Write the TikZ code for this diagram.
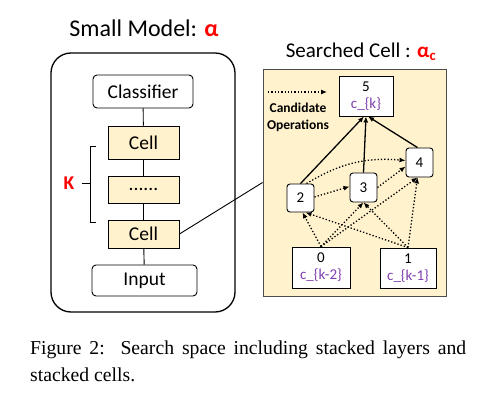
\documentclass[tikz,border=0pt]{standalone}
\usepackage{fontspec}
\setmainfont{Carlito}
\newfontfamily\capfont{Liberation Serif}
\usepackage{xcolor}
\definecolor{cellyellow}{RGB}{255,242,204}
\definecolor{opred}{RGB}{255,0,0}
\definecolor{oppurple}{RGB}{128,64,176}
\usetikzlibrary{arrows.meta,positioning}

\begin{document}
\begin{tikzpicture}[
  x=1pt,y=-1pt,
  modelbox/.style={draw,line width=0.9pt,rounded corners=4pt,fill=white,
    font=\fontsize{19.5}{21}\selectfont},
  cellbox/.style={draw,line width=0.9pt,fill=cellyellow,minimum width=71pt,
    font=\fontsize{19.5}{21}\selectfont},
  opnode/.style={draw,line width=0.9pt,rounded corners=3pt,fill=white,
    minimum width=27pt,minimum height=28pt,inner sep=0pt,
    font=\fontsize{15}{16}\selectfont},
  iobox/.style={draw,line width=0.9pt,fill=white,align=center,inner sep=0pt,
    font=\fontsize{15}{17}\selectfont},
  solidop/.style={line width=1.3pt,-{Latex[length=6pt,width=5pt]}},
  candop/.style={line width=1.3pt,dotted,-{Latex[length=6pt,width=5pt]}},
  link/.style={line width=0.9pt}
]
  \useasboundingbox (0,0) rectangle (490,401);
  % Small model header
  \node[font=\fontsize{24}{26}\selectfont] (titlemodel) at (144,28)
    {Small Model: \textcolor{opred}{\textbf{α}}};
  \node[draw,line width=1.3pt,rounded corners=20pt,minimum width=184pt,
    minimum height=259pt] (modelframe) at (143,182.5) {};
  \node[modelbox,minimum width=100pt,minimum height=33pt] (classifier) at (143,91.5) {Classifier};
  \node[cellbox,minimum height=33pt] (celltop) at (143.5,142.5) {Cell};
  \node[cellbox,minimum height=27pt] (celldots) at (143.5,189.5) {......};
  \node[cellbox,minimum height=28pt] (cellbot) at (143.5,234) {Cell};
  \node[modelbox,minimum width=105pt,minimum height=31pt] (input) at (144.5,280.5) {Input};
  \draw[link] (classifier) -- (celltop);
  \draw[link] (celltop) -- (celldots);
  \draw[link] (celldots) -- (cellbot);
  \draw[link] (cellbot) -- (input);
  % K bracket
  \coordinate (bracetop) at (96,146);
  \coordinate (bracebot) at (96,222);
  \coordinate (bracemid) at (90,183);
  \node[text=opred,font=\fontsize{19.5}{21}\selectfont\bfseries] (kcount) at (69,183) {K};
  \draw[link] (bracetop) -| (bracebot -| bracemid) -- (bracebot);
  \draw[link] (kcount.east) ++(4,0) -- (bracemid);
  % Searched cell header
  \node[font=\fontsize{21}{23}\selectfont] (titlecell) at (361,52)
    {Searched Cell : \textcolor{opred}{\textbf{α\textsubscript{c}}}};
  \node[draw=black!70,line width=0.9pt,fill=cellyellow,minimum width=183pt,
    minimum height=227pt] (cellframe) at (354.5,182.5) {};
  \draw[link] (cellbot.east) -- (cellframe.west);
  % legend
  \coordinate (legstart) at (268,92);
  \coordinate (legend) at (327,92);
  \draw[candop,line width=1.1pt] (legstart) -- (legend);
  \node[align=center,font=\fontsize{13.5}{17}\selectfont\bfseries] (legtext) at (298,117)
    {Candidate\\Operations};
  % nodes of the cell
  \node[iobox,minimum width=54pt,minimum height=40pt] (n5) at (366,96)
    {5\\\textcolor{oppurple}{c\_\{k\}}};
  \node[opnode] (n2) at (300.5,198) {2};
  \node[opnode,minimum height=29pt] (n3) at (363.5,187.5) {3};
  \node[opnode,minimum height=29pt] (n4) at (419.5,162.5) {4};
  \node[iobox,minimum width=58pt,minimum height=41pt] (n0) at (321,267.5)
    {0\\\textcolor{oppurple}{c\_\{k-2\}}};
  \node[iobox,minimum width=56pt,minimum height=40pt] (n1) at (408,268)
    {1\\\textcolor{oppurple}{c\_\{k-1\}}};
  % chosen edges
  \draw[solidop] (n2.north) -- ([xshift=-2pt]n5.south);
  \draw[solidop] (n3.north) -- (n5.south);
  \draw[solidop] ([xshift=-2pt]n4.north) -- ([xshift=2pt]n5.south);
  % candidate edges
  \draw[candop] ([yshift=1pt]n2.east) -- ([yshift=1pt]n3.west);
  \draw[candop] ([xshift=6pt]n2.north) to[bend left=18] ([yshift=2pt]n4.west);
  \draw[candop] (n3.east) -- ([yshift=-4pt]n4.west);
  \draw[candop] (n0.north) -- ([xshift=2pt]n2.south);
  \draw[candop] (n0.north) -- (n3.south);
  \draw[candop] (n0.north) -- ([xshift=-2pt]n4.south);
  \draw[candop] (n1.north) -- ([xshift=5pt]n2.south);
  \draw[candop] (n1.north) -- (n3.south);
  \draw[candop] (n1.north) -- ([xshift=-2pt]n4.south);
  % caption
  \node[anchor=west,inner sep=0pt,font=\capfont\fontsize{19.7}{22}\selectfont] (capone) at (30,350)
    {\makebox[436pt][s]{Figure 2:\ \ Search space including stacked layers and}};
  \node[anchor=west,inner sep=0pt,font=\capfont\fontsize{19.7}{22}\selectfont] (captwo) at (30,375)
    {stacked cells.};
\end{tikzpicture}
\end{document}
